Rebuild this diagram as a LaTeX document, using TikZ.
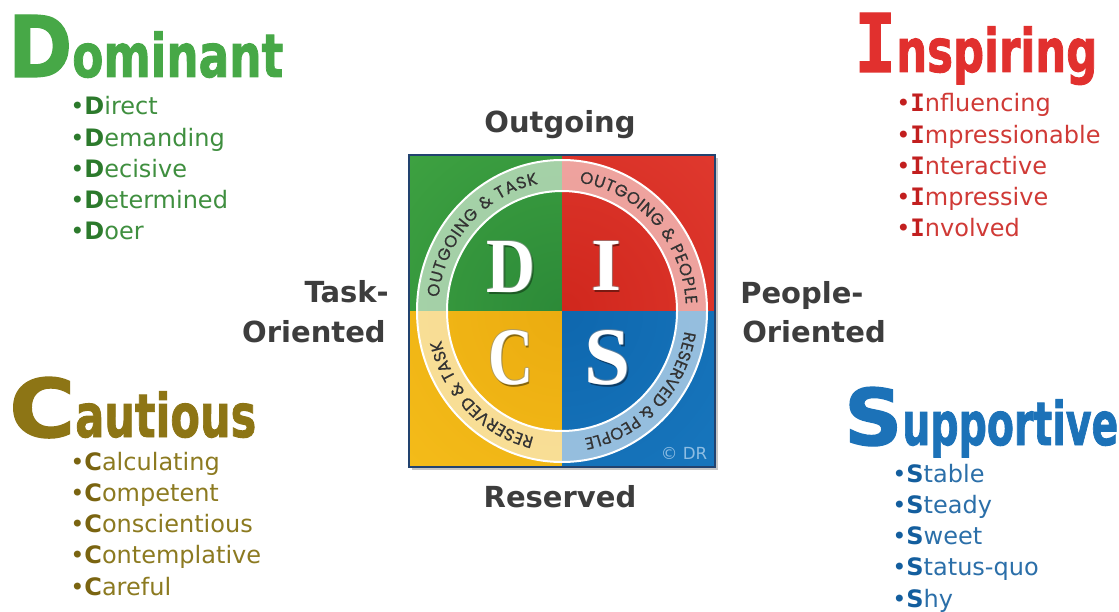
\documentclass[tikz,border=0pt]{standalone}
\usepackage{fontspec}
\usepackage{graphicx}
\usetikzlibrary{decorations.text,calc}
\setmainfont{DejaVu Sans}
\newfontfamily\monob{DejaVu Sans Mono}
\newfontfamily\headfont{DejaVu Sans Bold}[FakeBold=1.6]
\newfontfamily\headmono{DejaVu Sans Mono Bold}[FakeBold=1.6]
\newfontfamily\serifb{Liberation Serif}
\newfontfamily\ringfont{Poppins}[FakeBold=0.6]
\newlength\pxu \setlength\pxu{0.75pt}

\definecolor{labelgray}{HTML}{3D3D3D}
\definecolor{hgreen}{HTML}{47A847}
\definecolor{gtext}{HTML}{3F8F3F}
\definecolor{gbold}{HTML}{2C7A2C}
\definecolor{hred}{HTML}{E1302E}
\definecolor{rtext}{HTML}{D03A36}
\definecolor{rbold}{HTML}{C21F1F}
\definecolor{holive}{HTML}{8D7515}
\definecolor{otext}{HTML}{8C7A20}
\definecolor{obold}{HTML}{7A6410}
\definecolor{hblue}{HTML}{1C72B8}
\definecolor{btext}{HTML}{2B6FA9}
\definecolor{bbold}{HTML}{135E9E}
\definecolor{sqborder}{HTML}{22436F}
\definecolor{qgreenout}{HTML}{4FB94A}
\definecolor{qgreenin}{HTML}{2C8A38}
\definecolor{qredout}{HTML}{EF4A3F}
\definecolor{qredin}{HTML}{D0271D}
\definecolor{qyelout}{HTML}{FDCB22}
\definecolor{qyelin}{HTML}{EBAC10}
\definecolor{qblueout}{HTML}{2185CC}
\definecolor{qbluein}{HTML}{0E67AE}
\definecolor{ringgray}{HTML}{333333}
\definecolor{drblue}{HTML}{8DBDE3}
\definecolor{shD}{HTML}{1D5A24}
\definecolor{shI}{HTML}{7A1A12}
\definecolor{shC}{HTML}{86660C}
\definecolor{shS}{HTML}{0B3D68}

% one white letter with its dark outline and shadow, in a single box
\newcommand\discletter[4]{%
  \makebox[0pt][l]{\hspace*{1.3\pxu}\raisebox{-1.7\pxu}[0pt][0pt]{\textcolor{#4}{\resizebox{#1\pxu}{#2\pxu}{#3}}}}%
  \makebox[0pt][l]{\hspace*{1\pxu}\textcolor{#4!65!white}{\resizebox{#1\pxu}{#2\pxu}{#3}}}%
  \makebox[0pt][l]{\hspace*{-1\pxu}\textcolor{#4!65!white}{\resizebox{#1\pxu}{#2\pxu}{#3}}}%
  \makebox[0pt][l]{\raisebox{1\pxu}[0pt][0pt]{\textcolor{#4!65!white}{\resizebox{#1\pxu}{#2\pxu}{#3}}}}%
  \resizebox{#1\pxu}{#2\pxu}{#3}}

\tikzset{
  heading/.style={anchor=base west, inner sep=0pt, font=\headfont\fontsize{45}{50}\selectfont},
  bulletline/.style={anchor=base west, inner sep=0pt, font=\fontsize{18}{22}\selectfont},
  axislabel/.style={inner sep=0pt, font=\bfseries\fontsize{21.75}{26}\selectfont, text=labelgray},
  bigletter/.style={inner sep=0pt, text=white, font=\serifb\bfseries},
  ringtext/.style={decorate, decoration={text along path, text align=fit to path, text color=ringgray}},
}

\begin{document}
\begin{tikzpicture}[x=0.75pt, y=0.75pt]
\useasboundingbox (0,0) rectangle (1119,611);
\fill[white] (0,0) rectangle (1119,611);

\coordinate (c) at (562,300);

% square shadow
\fill[black!22] (412,141) rectangle (718,453);

% quadrants
\begin{scope}
  \clip (409,300) rectangle (562,456);
  \shade[inner color=qgreenin, outer color=qgreenout] (c) circle (440);
\end{scope}
\begin{scope}
  \clip (562,300) rectangle (715,456);
  \shade[inner color=qredin, outer color=qredout] (c) circle (440);
\end{scope}
\begin{scope}
  \clip (409,144) rectangle (562,300);
  \shade[inner color=qyelin, outer color=qyelout] (c) circle (440);
\end{scope}
\begin{scope}
  \clip (562,144) rectangle (715,300);
  \shade[inner color=qbluein, outer color=qblueout] (c) circle (440);
\end{scope}

% ring
\fill[white, opacity=0.55, even odd rule] (c) ellipse [x radius=145, y radius=151] (c) ellipse [x radius=115, y radius=120];
\draw[white, line width=1.5pt] (c) ellipse [x radius=145, y radius=151];
\draw[white, line width=1.5pt] (c) ellipse [x radius=115, y radius=120];

% ring texts
\path[ringtext, decoration={text={|\ringfont\fontsize{12.5}{14}\selectfont|OUTGOING {\&} TASK}}]
  ($(c)+(174:124 and 129.5)$) arc [start angle=174, end angle=101, x radius=124, y radius=129.5];
\path[ringtext, decoration={text={|\ringfont\fontsize{12.5}{14}\selectfont|OUTGOING {\&} PEOPLE}}]
  ($(c)+(82:124 and 129.5)$) arc [start angle=82, end angle=3, x radius=124, y radius=129.5];
\path[ringtext, decoration={text={|\ringfont\fontsize{12.5}{14}\selectfont|RESERVED {\&} PEOPLE}}]
  ($(c)+(-9:124 and 129.5)$) arc [start angle=-9, end angle=-79, x radius=124, y radius=129.5];
\path[ringtext, decoration={text={|\ringfont\fontsize{12.5}{14}\selectfont|RESERVED {\&} TASK}}]
  ($(c)+(257:124 and 129.5)$) arc [start angle=257, end angle=193, x radius=124, y radius=129.5];

% square border
\draw[sqborder, line width=1.8pt] (409,144) rectangle (715,456);

% big letters
\node[bigletter] (LD) at (511.5,344) {\discletter{49}{51}{D}{shD}};
\node[bigletter] (LI) at (606,345) {\discletter{30}{49}{I}{shI}};
\node[bigletter] (LC) at (511,253) {\discletter{45}{54}{C}{shC}};
\node[bigletter] (LS) at (608,253) {\discletter{46}{54}{S}{shS}};

\node[inner sep=0pt, text=drblue, font=\fontsize{12.5}{14}\selectfont] (copy) at (684,158) {© DR};

% axis labels
\node[axislabel, anchor=base] (outg) at (560,478) {Outgoing};
\node[axislabel, anchor=base] (resv) at (560,104) {Reserved};
\node[axislabel, anchor=base east] (taskA) at (389,309) {Task-};
\node[axislabel, anchor=base east] (taskB) at (386,269) {Oriented};
\node[axislabel, anchor=base west] (peopA) at (740,308) {People-};
\node[axislabel, anchor=base west] (peopB) at (742,269) {Oriented};

% headings
\node[heading, text=hgreen] (domhead) at (8,534) {\resizebox{64\pxu}{62\pxu}{D}\resizebox{211\pxu}{\height}{ominant}};
\node[heading, text=hred] (insphead) at (854,539) {\resizebox{42\pxu}{59\pxu}{\headmono I}\resizebox{201\pxu}{\height}{nspiring}};
\node[heading, text=holive] (cauthead) at (9,174) {\resizebox{66\pxu}{60\pxu}{C}\resizebox{181\pxu}{\height}{autious}};
\node[heading, text=hblue] (supphead) at (844,166) {\resizebox{58\pxu}{58\pxu}{S}\resizebox{216\pxu}{\height}{upportive}};

% bullet lists
\foreach \b [count=\i from 0] in {irect, emanding, ecisive, etermined, oer}
  \node[bulletline, text=gtext] (dom\i) at (70,496-31.25*\i) {{\color{gbold}•\textbf{D}}\b};
\foreach \b [count=\i from 0] in {nfluencing, mpressionable, nteractive, mpressive, nvolved}
  \node[bulletline, text=rtext] (insp\i) at (896,499-31.25*\i) {{\color{rbold}•\textbf{\monob I}}\b};
\foreach \b [count=\i from 0] in {alculating, ompetent, onscientious, ontemplative, areful}
  \node[bulletline, text=otext] (caut\i) at (70,141-31.25*\i) {{\color{obold}•\textbf{C}}\b};
\foreach \b [count=\i from 0] in {table, teady, weet, tatus-quo, hy}
  \node[bulletline, text=btext] (supp\i) at (892,129-31.25*\i) {{\color{bbold}•\textbf{S}}\b};

\end{tikzpicture}
\end{document}
